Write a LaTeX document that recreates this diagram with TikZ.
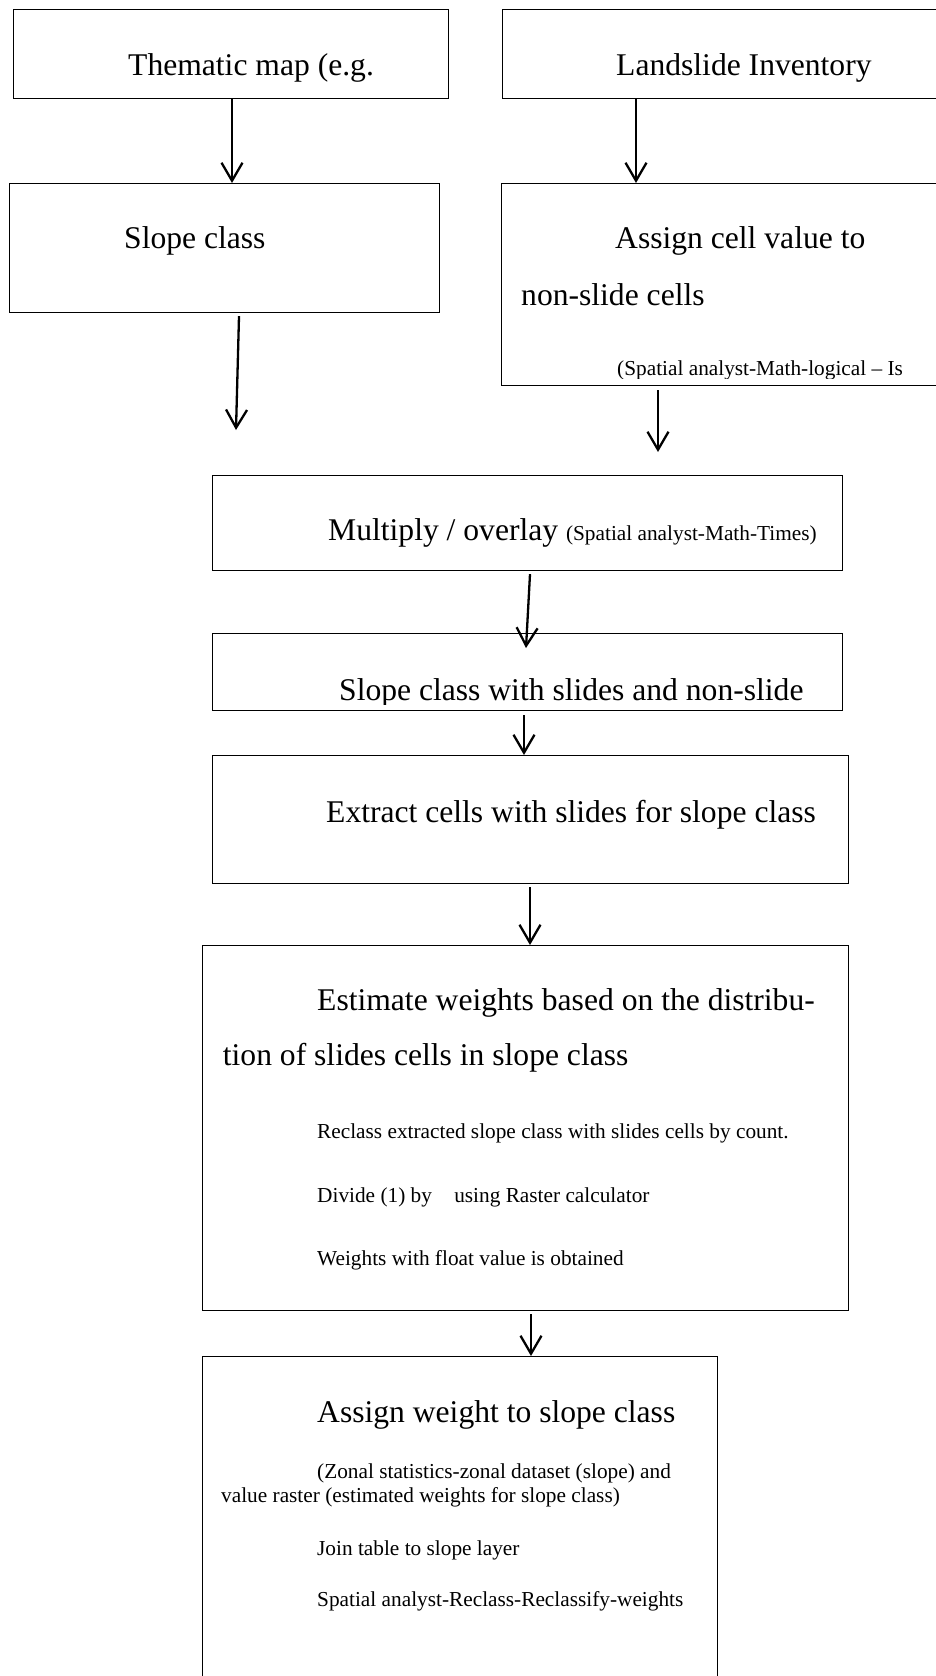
\documentclass[tikz,border=0pt]{standalone}
\usepackage{fontspec}
\setmainfont{Liberation Serif}
\usetikzlibrary{arrows.meta}

\begin{document}
\begin{tikzpicture}[x=1pt, y=-1pt, >={Straight Barb[length=18pt, width=21pt]},
    stepbox/.style={draw, line width=1.2pt, rectangle, inner sep=0pt, anchor=north west},
    bigtext/.style={anchor=base west, inner sep=0pt, font=\fontsize{31.6pt}{36pt}\selectfont},
    smalltext/.style={anchor=base west, inner sep=0pt, font=\fontsize{21.3pt}{24pt}\selectfont},
    flow/.style={->, line width=2.3pt}]
    \useasboundingbox (0,0) rectangle (936,1676);

    % inputs
    \node[stepbox, minimum width=435pt, minimum height=89.5pt] (thematic) at (13,8.5) {};
    \node[bigtext] (thematicT) at ([shift={(115,66.5)}]thematic.north west) {Thematic map (e.g.};
    \node[stepbox, minimum width=450pt, minimum height=89.5pt] (inventory) at (502,8.5) {};
    \node[bigtext] (inventoryT) at ([shift={(114,66.5)}]inventory.north west) {Landslide Inventory};

    \node[stepbox, minimum width=430pt, minimum height=129pt] (slope) at (9,183) {};
    \node[bigtext] (slopeT) at ([shift={(115,65)}]slope.north west) {Slope class};
    \node[stepbox, minimum width=450pt, minimum height=202pt] (cellvalue) at (501,183) {};
    \node[bigtext] (cellvalueT) at ([shift={(114,65)}]cellvalue.north west) {Assign cell value to};
    \node[bigtext] (cellvalueU) at ([shift={(20,122)}]cellvalue.north west) {non-slide cells};
    \begin{scope}
        \clip (cellvalue.north west) rectangle ([yshift=8pt]cellvalue.south east);
        \node[smalltext] (cellvalueV) at ([shift={(116,192)}]cellvalue.north west) {(Spatial analyst-Math-logical -- Is};
    \end{scope}

    % overlay steps
    \node[stepbox, minimum width=630pt, minimum height=95pt] (multiply) at (212,475) {};
    \node[bigtext] (multiplyT) at ([shift={(116,65)}]multiply.north west) {Multiply / overlay {\fontsize{21.3pt}{24pt}\selectfont (Spatial analyst-Math-Times)}};

    \node[stepbox, minimum width=630pt, minimum height=77pt] (withslides) at (212,633) {};
    \begin{scope}
        \clip (withslides.north west) rectangle ([yshift=7pt]withslides.south east);
        \node[bigtext] (withslidesT) at ([shift={(127,67)}]withslides.north west) {Slope class with slides and non-slide};
    \end{scope}

    \node[stepbox, minimum width=636pt, minimum height=128pt] (extract) at (212,755) {};
    \node[bigtext] (extractT) at ([shift={(114,67)}]extract.north west) {Extract cells with slides for slope class};

    % weights
    \node[stepbox, minimum width=646pt, minimum height=365pt] (estimate) at (202,945) {};
    \node[bigtext] (estimateT) at ([shift={(115,65)}]estimate.north west) {Estimate weights based on the distribu-};
    \node[bigtext] (estimateU) at ([shift={(20.7,120)}]estimate.north west) {tion of slides cells in slope class};
    \node[smalltext] (reclass) at ([shift={(115,193)}]estimate.north west) {Reclass extracted slope class with slides cells by count.};
    \node[smalltext] (divide) at ([shift={(115,257)}]estimate.north west) {Divide (1) by\hspace{17pt} using Raster calculator};
    \node[smalltext] (float) at ([shift={(115,320)}]estimate.north west) {Weights with float value is obtained};

    \node[stepbox, minimum width=515pt, minimum height=360pt] (assign) at (202,1356) {};
    \node[bigtext] (assignT) at ([shift={(115,66)}]assign.north west) {Assign weight to slope class};
    \node[smalltext] (zonal) at ([shift={(115,122)}]assign.north west) {(Zonal statistics-zonal dataset (slope) and};
    \node[smalltext] (zonalU) at ([shift={(19,146)}]assign.north west) {value raster (estimated weights for slope class)};
    \node[smalltext] (join) at ([shift={(115,199)}]assign.north west) {Join table to slope layer};
    \node[smalltext] (reclassify) at ([shift={(115,250)}]assign.north west) {Spatial analyst-Reclass-Reclassify-weights};

    % arrows
    \coordinate (slopeEnd) at (236,430);
    \coordinate (cellEnd) at (658,452);
    \draw[flow] ([xshift=219pt]thematic.south west) -- ([xshift=223pt]slope.north west);
    \draw[flow] ([xshift=134pt]inventory.south west) -- ([xshift=135pt]cellvalue.north west);
    \draw[flow] ([shift={(230,3)}]slope.south west) -- (slopeEnd);
    \draw[flow] ([shift={(157,4)}]cellvalue.south west) -- (cellEnd);
    \draw[flow] ([shift={(318,3)}]multiply.south west) -- ([shift={(314,15)}]withslides.north west);
    \draw[flow] ([shift={(312,4)}]withslides.south west) -- ([xshift=312pt]extract.north west);
    \draw[flow] ([shift={(318,3)}]extract.south west) -- ([xshift=328pt]estimate.north west);
    \draw[flow] ([shift={(329,3)}]estimate.south west) -- ([xshift=329pt]assign.north west);
\end{tikzpicture}
\end{document}
